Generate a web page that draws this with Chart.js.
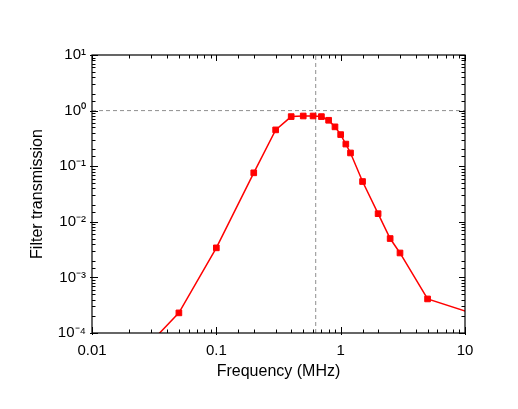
<!DOCTYPE html>
<html>
<head>
<meta charset="utf-8">
<script src="https://cdn.jsdelivr.net/npm/chart.js@4.4.1/dist/chart.umd.min.js"></script>
<style>
  html, body { margin: 0; padding: 0; background: #fff; }
  #wrap { width: 518px; height: 409px; }
</style>
</head>
<body>
<div id="wrap"><canvas id="filterChart" width="518" height="409"></canvas></div>
<script>
// filter response (points outside the axes are clipped)
var freq = [0.02, 0.05, 0.1, 0.2, 0.3, 0.4, 0.5, 0.6, 0.7, 0.8, 0.9, 1.0, 1.1, 1.2, 1.5, 2.0, 2.5, 3.0, 5.0, 20];
var trans = [2.7e-5, 2.3e-4, 3.4e-3, 0.076, 0.45, 0.78, 0.80, 0.80, 0.78, 0.67, 0.51, 0.37, 0.25, 0.173, 0.053, 0.014, 0.005, 0.00275, 0.00041, 1.5e-4];

// dashed guide lines
var cutoffFreq = 0.63;
var refLevel = 1;

// axis ranges and labels
var xRange = [0.01, 10];
var yRange = [1e-4, 10];
var xTickLabels = ["0.01", "0.1", "1", "10"];
var yTickLabels = ["10\u207B\u2074", "10\u207B\u00B3", "10\u207B\u00B2", "10\u207B\u00B9", "10\u2070", "10\u00B9"];

function decadeIndex(v, min) {
  var d = Math.log10(v) - Math.log10(min);
  var r = Math.round(d);
  return Math.abs(d - r) < 1e-6 ? r : -1;
}

// box + inward ticks like the original plot
var frameTicks = {
  id: "frameTicks",
  afterDraw: function (chart) {
    var ctx = chart.ctx;
    var a = chart.chartArea;
    var xs = chart.scales.x, ys = chart.scales.y;
    ctx.save();
    ctx.strokeStyle = "#000";
    ctx.lineWidth = 1.2;
    ctx.strokeRect(a.left, a.top, a.right - a.left, a.bottom - a.top);
    ctx.lineWidth = 1;
    ctx.beginPath();
    xs.ticks.forEach(function (t) {
      var px = Math.round(xs.getPixelForValue(t.value)) + 0.5;
      var major = decadeIndex(t.value, xRange[0]) >= 0;
      var len = major ? 6 : 3.5;
      ctx.moveTo(px, a.bottom + (major ? 2 : 0)); ctx.lineTo(px, a.bottom - len);
      ctx.moveTo(px, a.top); ctx.lineTo(px, a.top + len);
    });
    ys.ticks.forEach(function (t) {
      var py = Math.round(ys.getPixelForValue(t.value)) + 0.5;
      var major = decadeIndex(t.value, yRange[0]) >= 0;
      var len = major ? 6 : 3.5;
      ctx.moveTo(a.left - (major ? 2 : 0), py); ctx.lineTo(a.left + len, py);
      ctx.moveTo(a.right, py); ctx.lineTo(a.right - len, py);
    });
    ctx.stroke();
    ctx.restore();
  }
};

var font = "'Liberation Sans', Arial, Helvetica, sans-serif";

var ctx = document.getElementById("filterChart");
new Chart(ctx, {
  type: "line",
  data: {
    datasets: [
      {
        data: freq.map(function (f, i) { return { x: f, y: trans[i] }; }),
        borderColor: "#ff0000",
        backgroundColor: "#ff0000",
        borderWidth: 1.5,
        pointStyle: "rect",
        pointRadius: 4,
        pointBorderWidth: 1,
        tension: 0,
        order: 0
      },
      {
        data: [{ x: xRange[0], y: refLevel }, { x: xRange[1], y: refLevel }],
        borderColor: "#8f8f8f",
        borderWidth: 1,
        borderDash: [4, 3],
        pointRadius: 0,
        order: 1
      },
      {
        data: [{ x: cutoffFreq, y: yRange[0] }, { x: cutoffFreq, y: yRange[1] }],
        borderColor: "#8f8f8f",
        borderWidth: 1,
        borderDash: [4, 3],
        pointRadius: 0,
        order: 1
      }
    ]
  },
  options: {
    responsive: false,
    animation: false,
    layout: { padding: { top: 55, right: 53, left: 0, bottom: 0 } },
    plugins: {
      legend: { display: false },
      tooltip: { enabled: false }
    },
    scales: {
      x: {
        type: "logarithmic",
        min: xRange[0],
        max: xRange[1],
        grid: { display: false, drawTicks: false },
        border: { display: false },
        afterFit: function (s) { s.height = 76; },
        ticks: {
          autoSkip: false,
          maxRotation: 0,
          padding: 9,
          color: "#000",
          font: { family: font, size: 15 },
          callback: function (v) {
            var i = decadeIndex(v, xRange[0]);
            return i >= 0 ? xTickLabels[i] : "";
          }
        },
        title: {
          display: true,
          text: "Frequency (MHz)",
          color: "#000",
          font: { family: font, size: 16 },
          padding: { top: 0, bottom: 28 }
        }
      },
      y: {
        type: "logarithmic",
        min: yRange[0],
        max: yRange[1],
        grid: { display: false, drawTicks: false },
        border: { display: false },
        afterFit: function (s) { s.width = 92; },
        ticks: {
          autoSkip: false,
          padding: 6,
          color: "#000",
          font: { family: font, size: 15 },
          callback: function (v) {
            var i = decadeIndex(v, yRange[0]);
            return i >= 0 ? yTickLabels[i] : "";
          }
        },
        title: {
          display: true,
          text: "Filter transmission",
          color: "#000",
          font: { family: font, size: 16 },
          padding: { top: 28, bottom: 0 }
        }
      }
    }
  },
  plugins: [frameTicks]
});
</script>
</body>
</html>
